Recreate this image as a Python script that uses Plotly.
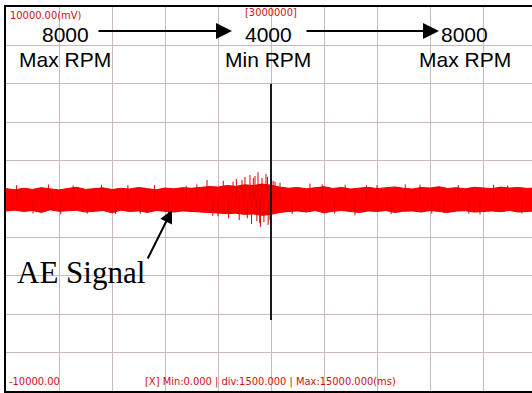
import plotly.graph_objects as go

# ---------------- data ----------------
# sample times of the envelope (ms), every 250 ms
env_step_ms = 250
env_time = [i * env_step_ms for i in range(61)]

# upper envelope of the AE signal (mV)
env_upper = [540, 480, 560, 500, 590, 520, 470, 550, 610, 500,
             530, 580, 490, 560, 520, 600, 540, 480, 570, 530,
             590, 560, 600, 650, 620, 700, 660, 740, 700, 780,
             720, 620, 560, 600, 530, 580, 640, 550, 600, 520,
             580, 610, 540, 590, 630, 560, 520, 600, 570, 640,
             550, 590, 530, 610, 580, 540, 620, 570, 600, 550, 580]

# lower envelope of the AE signal (mV)
env_lower = [-620, -580, -650, -600, -700, -560, -640, -610, -590, -680,
             -630, -600, -720, -580, -650, -620, -700, -600, -640, -680,
             -620, -650, -680, -700, -720, -760, -740, -800, -780, -850,
             -800, -700, -650, -620, -680, -600, -720, -640, -600, -660,
             -700, -620, -650, -600, -700, -640, -620, -680, -600, -650,
             -700, -630, -610, -680, -640, -620, -660, -600, -680, -640, -620]

# isolated spikes (time ms, peak mV)
spike_time = [300, 764, 1200, 1550, 1900, 2300, 2700, 3100, 3450, 3800, 4200,
              4600, 5100, 5400, 5689, 5850, 6000, 6150, 6300, 6425, 6520, 6600,
              6680, 6764, 6830, 6906, 6950, 7000, 7047, 7100, 7132, 7180, 7200,
              7245, 7300, 7358, 7400, 7420, 7470, 7560, 7613, 7755, 8100, 8604,
              8950, 9300, 9600, 9877, 10200, 10500, 10900, 11300, 11717, 12050,
              12400, 12800, 13100, 13415, 13800, 14200, 14600]
spike_peak = [720, -750, 760, -800, 700, -760, 740, -780, 730, -770, 720,
              -790, 690, 760, 990, -880, -900, 950, -1000, 900, 1050, -1100,
              980, 1150, -1000, 1250, -1300, 1100, 1200, -1150, 1400, -1250, -1450,
              1100, -1200, 1300, 1150, -1350, -1100, 950, 900, 850, -780, 800,
              760, -760, 740, -850, 720, 720, -790, 760, 750, -760,
              -740, 730, -770, -800, 740, 700, -760]

# axis settings
x_min_ms, x_max_ms, x_div_ms = 0, 15000, 1500
y_min_mv, y_max_mv, y_div_mv = -10000, 10000, 2000

# rpm annotations
rpm_values = ["8000", "4000", "8000"]
rpm_labels = ["Max RPM", "Min RPM", "Max RPM"]
rpm_x = [1670, 7415, 12990]

# ---------------- figure ----------------
W, H = 532, 393
ml, mr, mt, mb = 6, 0, 7, 2
plot_px_full = 530  # full 10-division width in px (cut at right edge)
visible_px = W - ml - mr
x_visible_max = x_max_ms * visible_px / plot_px_full

fig = go.Figure()

red = "#ff0000"
fig.add_trace(go.Scatter(x=env_time, y=env_lower, mode="lines",
                         line=dict(color="#e60000", width=1),
                         hoverinfo="skip", showlegend=False))
fig.add_trace(go.Scatter(x=env_time, y=env_upper, mode="lines",
                         line=dict(color="#e60000", width=1),
                         fill="tonexty", fillcolor=red,
                         hoverinfo="skip", showlegend=False))

sx, sy = [], []
for t, v in zip(spike_time, spike_peak):
    sx += [t, t, None]
    sy += [0, v, None]
fig.add_trace(go.Scatter(x=sx, y=sy, mode="lines",
                         line=dict(color="#e00000", width=1),
                         hoverinfo="skip", showlegend=False))

# central marker line
fig.add_shape(type="line", x0=7500, x1=7500, y0=6000, y1=-6300,
              line=dict(color="#1a1a1a", width=2))

ann = []
main_font = dict(family="Liberation Sans, Arial, sans-serif", size=21, color="black")
for xv, val, lab in zip(rpm_x, rpm_values, rpm_labels):
    ann.append(dict(x=xv, y=8560, xref="x", yref="y", text=val, showarrow=False,
                    font=main_font, xanchor="center", yanchor="middle"))
    ann.append(dict(x=xv, y=7290, xref="x", yref="y", text=lab, showarrow=False,
                    font=main_font, xanchor="center", yanchor="middle"))

# arrows between rpm labels
for x0, x1 in [(2575, 6396), (8462, 12255)]:
    ann.append(dict(x=x1, y=8750, ax=x0, ay=8750, xref="x", yref="y",
                    axref="x", ayref="y", text="", showarrow=True,
                    arrowhead=2, arrowsize=1.6, arrowwidth=2, arrowcolor="black"))

# AE signal pointer
ann.append(dict(x=4698, y=-573, ax=3990, ay=-3177, xref="x", yref="y",
                axref="x", ayref="y", text="", showarrow=True,
                arrowhead=2, arrowsize=1.3, arrowwidth=2, arrowcolor="black"))
ann.append(dict(x=255, y=-3850, xref="x", yref="y", text="AE Signal", showarrow=False,
                font=dict(family="Liberation Serif, Times New Roman, serif", size=31, color="black"),
                xanchor="left", yanchor="middle"))

narrow = dict(family="Liberation Sans Narrow, Arial Narrow, DejaVu Sans Condensed, sans-serif",
              size=11, color="#cc1111")
ann.append(dict(x=57, y=9583, xref="x", yref="y", text="10000.00(mV)", showarrow=False,
                font=narrow, xanchor="left", yanchor="middle"))
ann.append(dict(x=7500, y=9690, xref="x", yref="y", text="[3000000]", showarrow=False,
                font=narrow, xanchor="center", yanchor="middle"))
ann.append(dict(x=28, y=-9520, xref="x", yref="y", text="-10000.00", showarrow=False,
                font=narrow, xanchor="left", yanchor="middle"))
ann.append(dict(x=3877, y=-9520, xref="x", yref="y",
                text="[X] Min:0.000 | div:1500.000 | Max:15000.000(ms)", showarrow=False,
                font=narrow, xanchor="left", yanchor="middle"))

grid_color = "#c9b9b9"
fig.update_layout(
    width=W, height=H,
    margin=dict(l=ml, r=mr, t=mt, b=mb),
    paper_bgcolor="white", plot_bgcolor="white",
    annotations=ann,
    xaxis=dict(range=[x_min_ms, x_visible_max], dtick=x_div_ms, tick0=0,
               showgrid=True, gridcolor=grid_color, gridwidth=1,
               showticklabels=False, ticks="", zeroline=False,
               showline=True, linecolor="black", linewidth=2, mirror=True),
    yaxis=dict(range=[y_min_mv, y_max_mv], dtick=y_div_mv, tick0=0,
               showgrid=True, gridcolor=grid_color, gridwidth=1,
               showticklabels=False, ticks="", zeroline=False,
               showline=True, linecolor="black", linewidth=2, mirror=False),
)

fig.write_html("out.html", config={"displayModeBar": False},
               post_script="document.body.style.margin='0';document.body.style.overflow='hidden';")
